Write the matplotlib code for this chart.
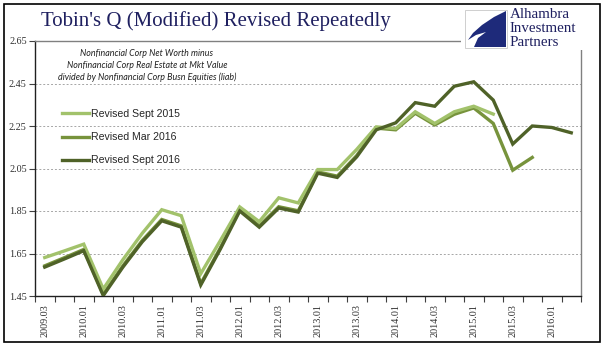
import matplotlib
matplotlib.use('Agg')
import matplotlib.pyplot as plt
from matplotlib.patches import Rectangle, Polygon

# ------------------------------------------------------------
# data
# ------------------------------------------------------------
quarters = ['2009.03', '2009.04', '2010.01', '2010.02', '2010.03', '2010.04',
            '2011.01', '2011.02', '2011.03', '2011.04', '2012.01', '2012.02',
            '2012.03', '2012.04', '2013.01', '2013.02', '2013.03', '2013.04',
            '2014.01', '2014.02', '2014.03', '2014.04', '2015.01', '2015.02',
            '2015.03', '2015.04', '2016.01', '2016.02']

sept_2015 = [1.631, 1.662, 1.694, 1.483, 1.620, 1.745, 1.856, 1.828, 1.555, 1.710,
             1.869, 1.800, 1.912, 1.888, 2.045, 2.045, 2.140, 2.246, 2.238, 2.317,
             2.262, 2.317, 2.343, 2.306]
mar_2016 = [1.592, 1.630, 1.669, 1.458, 1.591, 1.711, 1.810, 1.780, 1.508, 1.676,
            1.856, 1.780, 1.870, 1.851, 2.034, 2.014, 2.111, 2.240, 2.232, 2.310,
            2.255, 2.305, 2.335, 2.262, 2.042, 2.102]
sept_2016 = [1.586, 1.624, 1.663, 1.452, 1.585, 1.705, 1.804, 1.774, 1.502, 1.670,
             1.850, 1.774, 1.864, 1.845, 2.028, 2.008, 2.105, 2.232, 2.265, 2.360,
             2.343, 2.437, 2.458, 2.372, 2.165, 2.250, 2.243, 2.218]

series = [
    ('Revised Mar 2016', mar_2016, '#77933C'),
    ('Revised Sept 2015', sept_2015, '#A2C26B'),
    ('Revised Sept 2016', sept_2016, '#4F6228'),
]
legend_order = ['Revised Sept 2015', 'Revised Mar 2016', 'Revised Sept 2016']

yticks = [1.45, 1.65, 1.85, 2.05, 2.25, 2.45, 2.65]

W, H = 604, 361
fig = plt.figure(figsize=(W / 100, H / 100), dpi=100)

# plot area in pixels
x0, x1, ytop, ybot = 35, 581, 41, 296
ax = fig.add_axes([x0 / W, 1 - ybot / H, (x1 - x0) / W, (ybot - ytop) / H])

handles = {}
for name, vals, col in series:
    ln, = ax.plot(range(len(vals)), vals, color=col, lw=2.4, label=name,
                  solid_joinstyle='miter', zorder=3)
    handles[name] = ln

ax.set_xlim(-0.5, len(quarters) - 0.5)
ax.set_ylim(yticks[0], yticks[-1])

# tick marks between categories, labels every 2nd quarter
ax.set_xticks([i - 0.5 for i in range(len(quarters) + 1)])
ax.set_xticklabels([])
ax.tick_params(axis='x', which='major', direction='out', length=4, width=0.8, color='#404040')
ax.set_xticks(range(0, len(quarters), 2), minor=True)
ax.set_xticklabels(quarters[::2], minor=True, rotation=90, family='Liberation Serif',
                   fontsize=7.3, color='#303030')
ax.tick_params(axis='x', which='minor', length=0, pad=6)

ax.set_yticks(yticks)
ax.set_yticklabels([f'{v:.2f}' for v in yticks], family='Liberation Serif',
                   fontsize=7.3, color='#303030')
ax.tick_params(axis='y', direction='out', length=4, width=0.8, color='#404040', pad=2)

for v in yticks[1:-1]:
    ax.axhline(v, color='#A6A6A6', lw=0.7, ls=(0, (2, 2)), zorder=1)

ax.spines['left'].set_color('#202020')
ax.spines['bottom'].set_color('#202020')
ax.spines['top'].set_color('#808080')
ax.spines['right'].set_color('#808080')
for s in ax.spines.values():
    s.set_linewidth(1.0)

leg = ax.legend([handles[n] for n in legend_order], legend_order,
                loc='upper left', bbox_to_anchor=(62 / W, 1 - 109 / H),
                bbox_transform=fig.transFigure, frameon=False,
                prop={'family': 'Liberation Sans', 'size': 7.6},
                handlelength=2.6, handletextpad=0.15, labelspacing=1.25,
                borderpad=0, borderaxespad=0, labelcolor='#262626')

# note text
note = ['Nonfinancial Corp Net Worth minus',
        'Nonfinancial Corp Real Estate at Mkt Value',
        'divided by Nonfinancial Corp Busn Equities (liab)']
for i, t in enumerate(note):
    fig.text(147 / W, 1 - (53 + 12 * i) / H, t, ha='center', va='center',
             style='italic', family='Lato', fontsize=6.4, color='#202020')

# title
fig.text(216 / W, 1 - 21 / H, "Tobin's Q (Modified) Revised Repeatedly",
         ha='center', va='center', family='Liberation Serif', fontsize=15,
         color='#1F2060')

# logo
pix = fig.transFigure
def px(x, y):
    return (x / W, 1 - y / H)

fig.patches.append(Rectangle(px(461, 50), 132 / W, 44 / H, transform=pix,
                             facecolor='white', edgecolor='none', zorder=5))
fig.patches.append(Rectangle(px(465, 48), 42 / W, 38 / H, transform=pix,
                             facecolor='white', edgecolor='#C8C8C8', lw=0.6, zorder=6))
sail = [px(506, 11), px(494, 17), px(482, 25), px(473, 33), px(468, 40),
        px(476, 35), px(486, 32), px(478, 38), px(474, 47), px(506, 47)]
fig.patches.append(Polygon(sail, transform=pix, facecolor='#1E2A7A',
                           edgecolor='none', zorder=7))
for i, t in enumerate(['Alhambra', 'Investment', 'Partners']):
    fig.text(510 / W, 1 - (15 + 14 * i) / H, t, ha='left', va='center',
             family='Liberation Serif', fontsize=10.8, color='#1F2060', zorder=10)

# outer frame
fig.patches.append(Rectangle(px(4, 342), 596 / W, 338 / H, transform=pix,
                             facecolor='none', edgecolor='black', lw=1.2, zorder=10))

fig.savefig('out.png', dpi=100)
